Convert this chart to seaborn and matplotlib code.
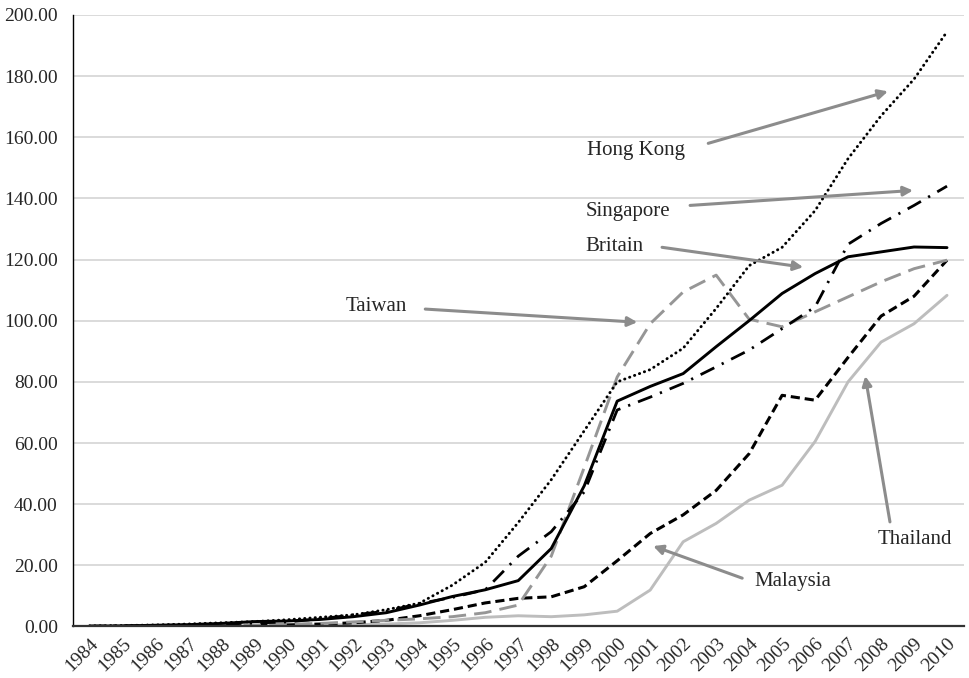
import pandas as pd
import matplotlib
matplotlib.use("Agg")
import matplotlib.pyplot as plt
import seaborn as sns

# Datos
years = list(range(1984, 2011))
hong_kong = [0.2, 0.3, 0.5, 0.8, 1.2, 1.6, 2.2, 3.0, 3.8, 5.5, 7.6, 13.5, 21.0, 34.0, 48.0,
             64.0, 80.0, 84.0, 91.0, 104.0, 118.0, 124.0, 136.0, 153.0, 167.0, 179.0, 194.5]
singapore = [0.1, 0.2, 0.3, 0.5, 0.8, 1.1, 1.5, 2.5, 3.8, 5.0, 7.5, 9.5, 12.0, 23.0, 31.0,
             44.0, 70.8, 75.0, 79.5, 84.9, 90.4, 97.4, 104.5, 125.0, 131.8, 137.7, 144.0]
britain = [0.1, 0.2, 0.4, 0.6, 1.0, 1.6, 1.8, 2.3, 3.2, 4.5, 7.0, 9.8, 12.0, 15.0, 25.5,
           46.0, 73.7, 78.5, 82.7, 91.5, 100.0, 108.9, 115.4, 120.9, 122.5, 124.1, 123.9]
taiwan = [0.0, 0.0, 0.1, 0.2, 0.3, 0.5, 0.7, 1.0, 1.5, 2.0, 2.5, 3.2, 4.5, 7.0, 23.0,
          52.0, 81.6, 99.0, 109.4, 114.9, 100.5, 98.0, 102.9, 107.8, 112.7, 117.0, 119.8]
malaysia = [0.0, 0.0, 0.1, 0.1, 0.2, 0.3, 0.5, 0.8, 1.2, 2.0, 3.5, 5.5, 7.7, 9.2, 9.7,
            13.0, 21.5, 30.4, 36.5, 44.5, 56.5, 75.6, 74.0, 88.0, 101.5, 108.0, 119.8]
thailand = [0.0, 0.0, 0.0, 0.1, 0.1, 0.2, 0.3, 0.4, 0.6, 0.8, 1.2, 2.0, 3.0, 3.5, 3.2,
            3.8, 5.0, 11.9, 27.7, 33.7, 41.3, 46.2, 60.5, 80.0, 93.0, 99.0, 108.3]

series = {
    "Thailand": (thailand, "#bdbdbd", "-", 2.1),
    "Malaysia": (malaysia, "black", (0, (3, 1.6)), 2.2),
    "Taiwan": (taiwan, "#969696", (0, (6, 2.8)), 2.1),
    "Singapore": (singapore, "black", (0, (5.5, 3, 0.8, 3)), 2.0),
    "Britain": (britain, "black", "-", 2.1),
    "Hong Kong": (hong_kong, "black", (0, (0.1, 1.7)), 2.1),
}

sns.set_style("white")
plt.rcParams["font.family"] = ["Liberation Serif", "DejaVu Serif"]

fig = plt.figure(figsize=(9.7, 6.78), dpi=100)
ax = fig.add_axes([0.0753, 0.076, 0.918, 0.902])

idx = list(range(len(years)))
for name, (vals, col, ls, lw) in series.items():
    df = pd.DataFrame({"i": idx, "v": vals})
    sns.lineplot(data=df, x="i", y="v", color=col, linestyle=ls, linewidth=lw, ax=ax,
                 dash_capstyle="round" if name == "Hong Kong" else "butt")

ax.set_xlim(-0.5, len(years) - 0.5)
ax.set_ylim(0, 200)
ax.set_yticks(range(0, 201, 20))
ax.set_yticklabels([f"{v:.2f}" for v in range(0, 201, 20)], fontsize=14)
ax.set_xticks(idx)
ax.set_xticklabels([str(y) for y in years], rotation=45, ha="right",
                   rotation_mode="anchor", fontsize=14)
ax.set_xlabel("")
ax.set_ylabel("")
ax.tick_params(axis="both", length=0)
ax.tick_params(axis="y", pad=11)
ax.tick_params(axis="x", pad=6)
ax.grid(axis="y", color="#d4d4d4", linewidth=1.2)
ax.set_axisbelow(True)
for s in ["top", "right"]:
    ax.spines[s].set_visible(False)
ax.spines["left"].set_color("black")
ax.spines["left"].set_linewidth(1.0)
ax.spines["bottom"].set_color("#333333")
ax.spines["bottom"].set_linewidth(1.6)

# Etiquetas con flechas
arrow = dict(arrowstyle="-|>", color="#8c8c8c", lw=2.2, mutation_scale=14, shrinkA=0, shrinkB=0)
labels = [
    ("Hong Kong", (15.09, 155.7), (18.76, 158.0), (24.21, 175.0)),
    ("Singapore", (15.03, 135.8), (18.21, 137.7), (24.97, 142.6)),
    ("Britain", (15.03, 124.4), (17.36, 124.0), (21.64, 117.5)),
    ("Taiwan", (7.76, 104.7), (10.18, 103.8), (16.61, 99.5)),
    ("Malaysia", (20.15, 14.6), (19.79, 15.8), (17.09, 26.3)),
    ("Thailand", (23.91, 28.6), (24.27, 34.2), (23.52, 81.9)),
]
for name, tpos, start, tip in labels:
    ax.text(tpos[0], tpos[1], name, fontsize=15, ha="left", va="center")
    ax.annotate("", xy=tip, xytext=start, arrowprops=arrow)

plt.savefig("out.png", dpi=100)
